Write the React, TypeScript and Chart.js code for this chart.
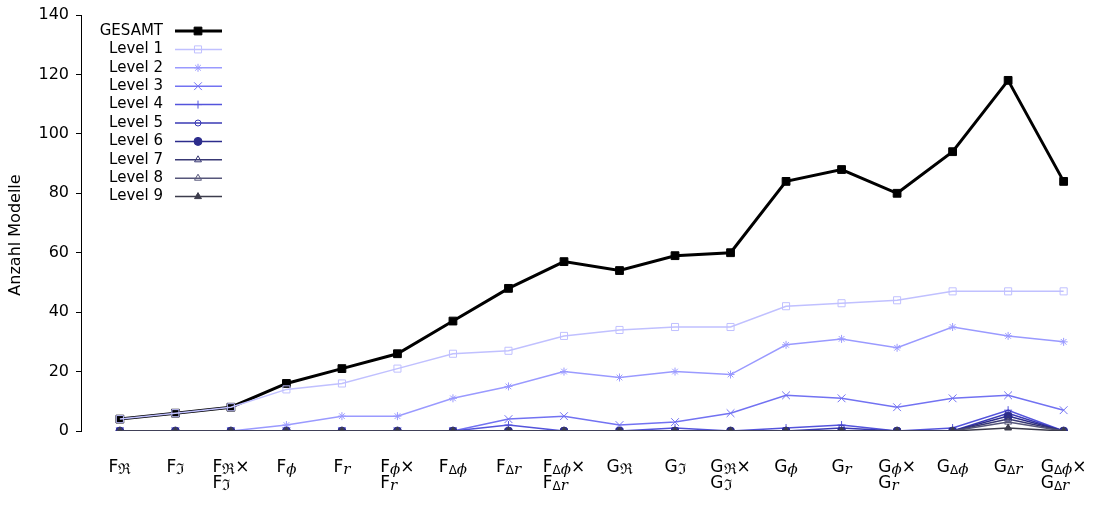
import React, { useEffect, useRef } from "react";
import { Chart, registerables } from "chart.js";
import { drawPoint } from "chart.js/helpers";

Chart.register(...registerables);

// Category labels: "_{...}" marks a subscript, "\n" breaks a label into two rows
const categories: string[] = [
  "F_{ℜ}", "F_{ℑ}", "F_{ℜ}×\nF_{ℑ}", "F_{ϕ}", "F_{r}", "F_{ϕ}×\nF_{r}",
  "F_{Δϕ}", "F_{Δr}", "F_{Δϕ}×\nF_{Δr}",
  "G_{ℜ}", "G_{ℑ}", "G_{ℜ}×\nG_{ℑ}", "G_{ϕ}", "G_{r}", "G_{ϕ}×\nG_{r}",
  "G_{Δϕ}", "G_{Δr}", "G_{Δϕ}×\nG_{Δr}",
];

const gesamt = [4, 6, 8, 16, 21, 26, 37, 48, 57, 54, 59, 60, 84, 88, 80, 94, 118, 84];
const level1 = [4, 6, 8, 14, 16, 21, 26, 27, 32, 34, 35, 35, 42, 43, 44, 47, 47, 47];
const level2 = [0, 0, 0, 2, 5, 5, 11, 15, 20, 18, 20, 19, 29, 31, 28, 35, 32, 30];
const level3 = [0, 0, 0, 0, 0, 0, 0, 4, 5, 2, 3, 6, 12, 11, 8, 11, 12, 7];
const level4 = [0, 0, 0, 0, 0, 0, 0, 2, 0, 0, 1, 0, 1, 2, 0, 1, 7, 0];
const level5 = [0, 0, 0, 0, 0, 0, 0, 0, 0, 0, 0, 0, 0, 1, 0, 0, 6, 0];
const level6 = [0, 0, 0, 0, 0, 0, 0, 0, 0, 0, 0, 0, 0, 0, 0, 0, 5, 0];
const level7 = [0, 0, 0, 0, 0, 0, 0, 0, 0, 0, 0, 0, 0, 0, 0, 0, 4, 0];
const level8 = [0, 0, 0, 0, 0, 0, 0, 0, 0, 0, 0, 0, 0, 0, 0, 0, 3, 0];
const level9 = [0, 0, 0, 0, 0, 0, 0, 0, 0, 0, 0, 0, 0, 0, 0, 0, 1, 0];

const yTicks = [0, 20, 40, 60, 80, 100, 120, 140];

const NONE = "rgba(0,0,0,0)";
const SANS = '"DejaVu Sans", sans-serif';
const SERIF = '"DejaVu Serif", serif';

interface SeriesStyle {
  label: string;
  values: number[];
  color: string;
  width: number;
  pointStyle: string;
  radius: number;
  filled: boolean;
}

const series: SeriesStyle[] = [
  { label: "GESAMT", values: gesamt, color: "#000000", width: 3, pointStyle: "rect", radius: 5.5, filled: true },
  { label: "Level 1", values: level1, color: "#c0c0ff", width: 1.5, pointStyle: "rect", radius: 5, filled: false },
  { label: "Level 2", values: level2, color: "#9a9aff", width: 1.5, pointStyle: "star", radius: 4, filled: false },
  { label: "Level 3", values: level3, color: "#7272f2", width: 1.5, pointStyle: "crossRot", radius: 5.5, filled: false },
  { label: "Level 4", values: level4, color: "#5454dc", width: 1.5, pointStyle: "cross", radius: 4, filled: false },
  { label: "Level 5", values: level5, color: "#3a3ab4", width: 1.5, pointStyle: "circle", radius: 3, filled: false },
  { label: "Level 6", values: level6, color: "#2c2c8c", width: 1.5, pointStyle: "circle", radius: 4, filled: true },
  { label: "Level 7", values: level7, color: "#383874", width: 1.5, pointStyle: "triangle", radius: 4, filled: false },
  { label: "Level 8", values: level8, color: "#56567a", width: 1.5, pointStyle: "triangle", radius: 4, filled: false },
  { label: "Level 9", values: level9, color: "#3c3c4c", width: 1.5, pointStyle: "triangle", radius: 4, filled: true },
];

type Seg = { text: string; font: string; dy: number };

const MAIN_FONT = `17px ${SANS}`;
const SUB_FONT = `12px ${SANS}`;
const SUB_FRAKTUR = `15px ${SERIF}`;
const SUB_ITALIC = `italic 15px ${SERIF}`;

// Splits one label row into plain and subscript runs
function parseRow(row: string): Seg[] {
  const segs: Seg[] = [];
  const re = /_\{([^}]*)\}|([^_]+)/g;
  let m: RegExpExecArray | null;
  while ((m = re.exec(row))) {
    if (m[1] !== undefined) {
      for (const ch of m[1]) {
        let font = SUB_FONT;
        if (ch === "ϕ" || ch === "r") font = SUB_ITALIC;
        else if (ch === "ℜ" || ch === "ℑ") font = SUB_FRAKTUR;
        segs.push({ text: ch, font, dy: 2 });
      }
    } else if (m[2]) {
      segs.push({ text: m[2], font: MAIN_FONT, dy: 0 });
    }
  }
  return segs;
}

function rowWidth(ctx: CanvasRenderingContext2D, segs: Seg[]) {
  let w = 0;
  for (const s of segs) {
    ctx.font = s.font;
    w += ctx.measureText(s.text).width;
  }
  return w;
}

const decorPlugin = {
  id: "decor",
  afterDraw(chart: any) {
    const ctx: CanvasRenderingContext2D = chart.ctx;
    const xs = chart.scales.x;
    const ys = chart.scales.y;
    const area = chart.chartArea;
    ctx.save();
    ctx.fillStyle = "#000";

    // y tick labels
    ctx.font = `16px ${SANS}`;
    ctx.textAlign = "right";
    ctx.textBaseline = "middle";
    yTicks.forEach((v) => {
      ctx.fillText(String(v), area.left - 12, ys.getPixelForValue(v));
    });

    // category labels below the plot
    ctx.textBaseline = "alphabetic";
    ctx.textAlign = "left";
    categories.forEach((label, i) => {
      const rows = label.split("\n").map(parseRow);
      const widths = rows.map((r) => rowWidth(ctx, r));
      const cx = xs.getPixelForValue(i);
      const left = cx - Math.max(...widths) / 2;
      rows.forEach((segs, r) => {
        let x = left;
        const base = area.bottom + 41 + r * 16;
        for (const s of segs) {
          ctx.font = s.font;
          ctx.fillText(s.text, x, base + s.dy);
          x += ctx.measureText(s.text).width;
        }
      });
    });

    // y axis title
    ctx.save();
    ctx.translate(16, 235);
    ctx.rotate(-Math.PI / 2);
    ctx.textAlign = "center";
    ctx.textBaseline = "middle";
    ctx.font = `16px ${SANS}`;
    ctx.fillText("Anzahl Modelle", 0, 0);
    ctx.restore();

    // legend
    series.forEach((s, i) => {
      const y = 31 + i * 18.4;
      ctx.font = `15px ${SANS}`;
      ctx.textAlign = "right";
      ctx.textBaseline = "middle";
      ctx.fillStyle = "#000";
      ctx.fillText(s.label, 163, y);
      ctx.strokeStyle = s.color;
      ctx.lineWidth = s.width;
      ctx.beginPath();
      ctx.moveTo(175, y);
      ctx.lineTo(222, y);
      ctx.stroke();
      ctx.fillStyle = s.filled ? s.color : NONE;
      ctx.lineWidth = 1;
      drawPoint(ctx, { pointStyle: s.pointStyle as any, radius: s.radius, rotation: 0, borderWidth: 1 }, 198, y);
    });
    ctx.restore();
  },
};

export default function App() {
  const ref = useRef<HTMLCanvasElement | null>(null);

  useEffect(() => {
    document.body.style.margin = "0";
    const canvas = ref.current;
    if (!canvas) return;
    const chart = new Chart(canvas, {
      type: "line",
      data: {
        datasets: series.map((s, i) => ({
          label: s.label,
          data: s.values.map((v, k) => ({ x: k, y: v })),
          borderColor: s.color,
          backgroundColor: s.filled ? s.color : NONE,
          borderWidth: s.width,
          pointStyle: s.pointStyle as any,
          pointRadius: s.radius,
          pointBorderWidth: 1,
          pointBorderColor: s.color,
          pointBackgroundColor: s.filled ? s.color : NONE,
          tension: 0,
          fill: false,
          order: series.length - i,
        })),
      },
      options: {
        animation: false,
        responsive: false,
        devicePixelRatio: 1,
        layout: { padding: { left: 0, top: 15, right: 5, bottom: 77 } },
        plugins: { legend: { display: false }, tooltip: { enabled: false } },
        scales: {
          x: { type: "linear", min: -0.7, max: 17.7, display: false },
          y: {
            min: 0,
            max: 140,
            afterFit: (scale: any) => {
              scale.width = 81;
            },
            afterBuildTicks: (scale: any) => {
              scale.ticks = yTicks.map((v) => ({ value: v }));
            },
            ticks: { display: false },
            grid: { drawOnChartArea: false, drawTicks: true, tickLength: 5, color: "#000", lineWidth: 1 },
            border: { display: true, color: "#000", width: 1 },
          },
        },
      },
      plugins: [decorPlugin],
    });
    return () => chart.destroy();
  }, []);

  return (
    <div style={{ width: 1109, height: 508, position: "relative", background: "#fff" }}>
      <canvas ref={ref} width={1109} height={508} style={{ display: "block" }} />
    </div>
  );
}
